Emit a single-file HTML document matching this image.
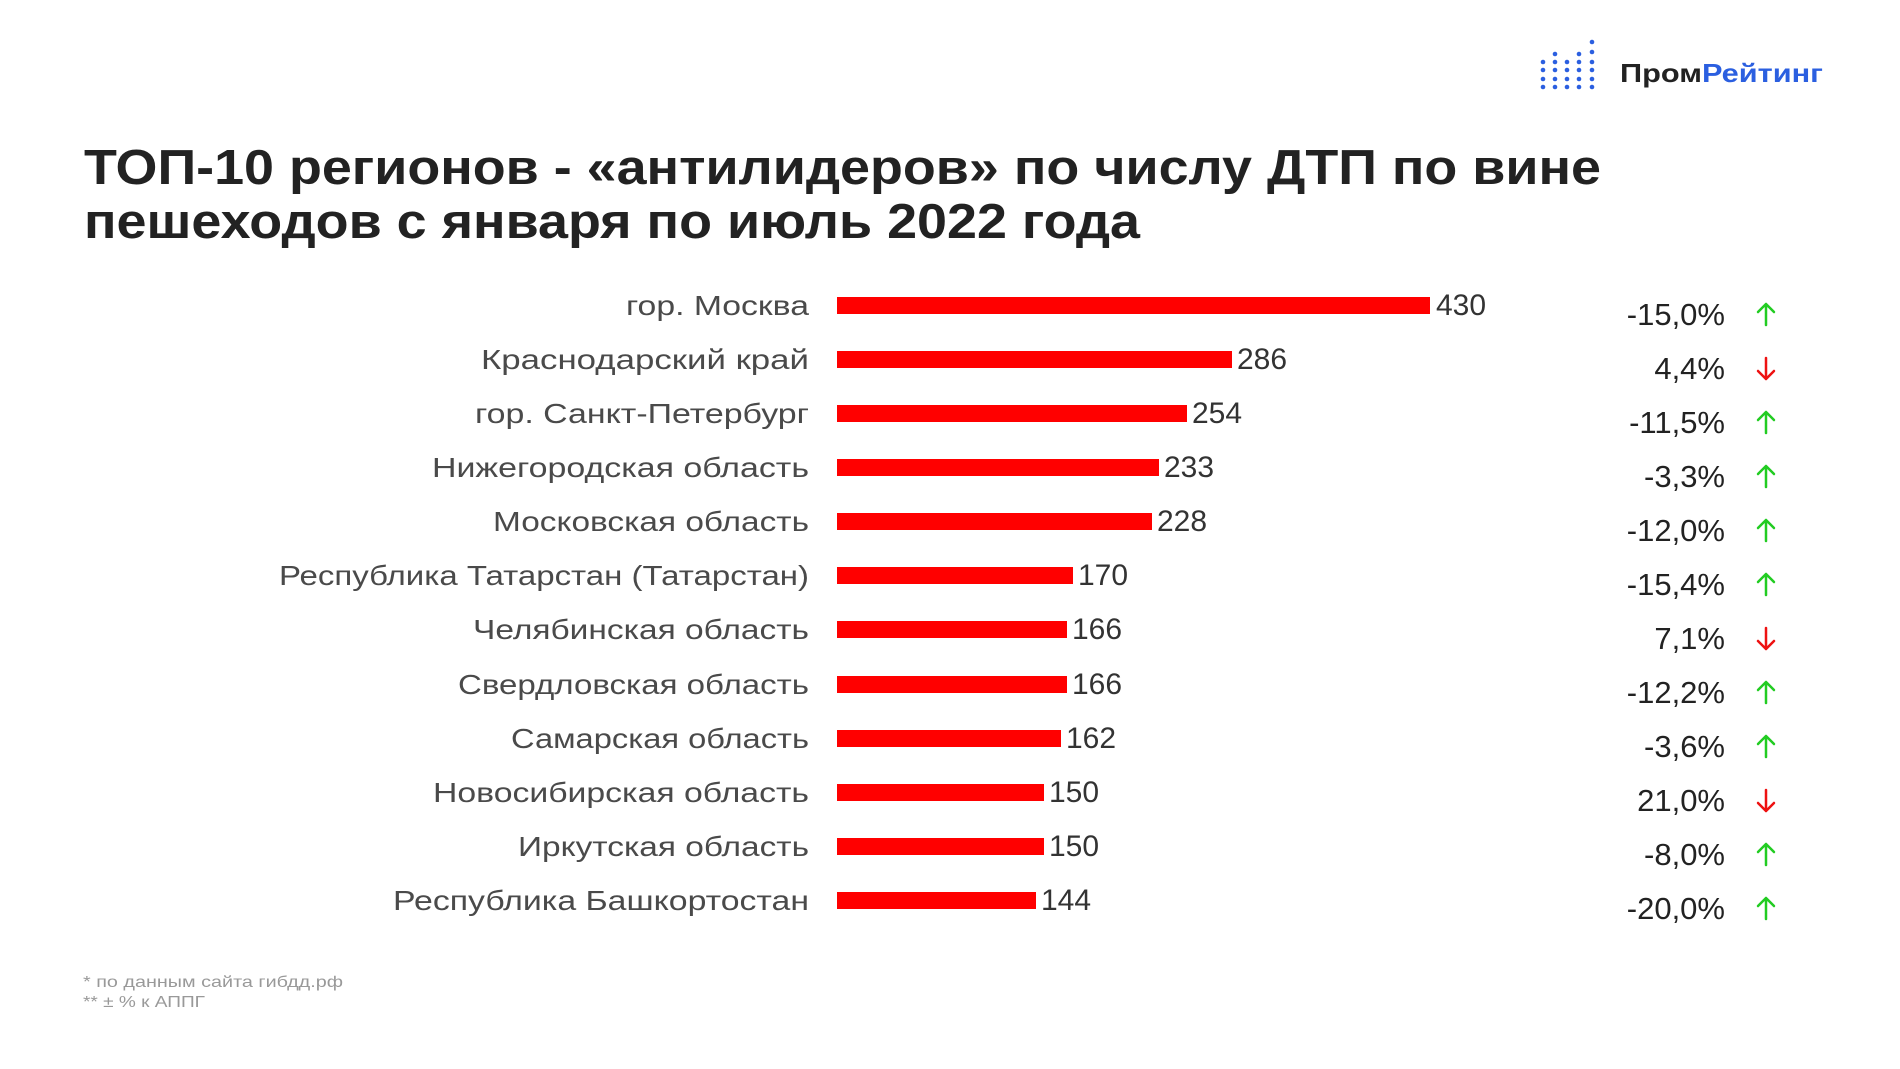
<!DOCTYPE html>
<html><head><meta charset="utf-8"><style>
html,body{margin:0;padding:0;background:#fff;}
svg{display:block;}
text{font-family:"Liberation Sans","DejaVu Sans",sans-serif;}
</style></head><body>
<svg width="1900" height="1069" viewBox="0 0 1900 1069" xmlns="http://www.w3.org/2000/svg">
<rect width="1900" height="1069" fill="#fff"/>
<g fill="#2b5fe0">
<circle cx="1543" cy="62" r="2.3"/><circle cx="1543" cy="70" r="2.3"/><circle cx="1543" cy="79" r="2.3"/><circle cx="1543" cy="87" r="2.3"/>
<circle cx="1555" cy="62" r="2.3"/><circle cx="1555" cy="70" r="2.3"/><circle cx="1555" cy="79" r="2.3"/><circle cx="1555" cy="87" r="2.3"/><circle cx="1555" cy="54" r="2.3"/>
<circle cx="1567" cy="62" r="2.3"/><circle cx="1567" cy="70" r="2.3"/><circle cx="1567" cy="79" r="2.3"/><circle cx="1567" cy="87" r="2.3"/>
<circle cx="1579" cy="62" r="2.3"/><circle cx="1579" cy="70" r="2.3"/><circle cx="1579" cy="79" r="2.3"/><circle cx="1579" cy="87" r="2.3"/><circle cx="1579" cy="54" r="2.3"/>
<circle cx="1592" cy="42" r="2.3"/><circle cx="1592" cy="52" r="2.3"/><circle cx="1592" cy="62" r="2.3"/><circle cx="1592" cy="70" r="2.3"/><circle cx="1592" cy="79" r="2.3"/><circle cx="1592" cy="87" r="2.3"/>
</g>
<text x="1620" y="82" font-size="26" font-weight="bold" textLength="203" lengthAdjust="spacingAndGlyphs"><tspan fill="#222">Пром</tspan><tspan fill="#2b5fe0">Рейтинг</tspan></text>
<text x="84" y="184" font-size="49" font-weight="bold" fill="#222" textLength="1517" lengthAdjust="spacingAndGlyphs">ТОП-10 регионов - «антилидеров» по числу ДТП по вине</text>
<text x="84" y="238" font-size="49" font-weight="bold" fill="#222" textLength="1056" lengthAdjust="spacingAndGlyphs">пешеходов с января по июль 2022 года</text>
<g font-size="28" fill="#4a4a4a" lengthAdjust="spacingAndGlyphs">
<text x="626" y="315" textLength="183" lengthAdjust="spacingAndGlyphs">гор. Москва</text>
<text x="481" y="369" textLength="328" lengthAdjust="spacingAndGlyphs">Краснодарский край</text>
<text x="475" y="423" textLength="334" lengthAdjust="spacingAndGlyphs">гор. Санкт-Петербург</text>
<text x="432" y="477" textLength="377" lengthAdjust="spacingAndGlyphs">Нижегородская область</text>
<text x="493" y="531" textLength="316" lengthAdjust="spacingAndGlyphs">Московская область</text>
<text x="279" y="585" textLength="530" lengthAdjust="spacingAndGlyphs">Республика Татарстан (Татарстан)</text>
<text x="473" y="639" textLength="336" lengthAdjust="spacingAndGlyphs">Челябинская область</text>
<text x="458" y="694" textLength="351" lengthAdjust="spacingAndGlyphs">Свердловская область</text>
<text x="511" y="748" textLength="298" lengthAdjust="spacingAndGlyphs">Самарская область</text>
<text x="433" y="802" textLength="376" lengthAdjust="spacingAndGlyphs">Новосибирская область</text>
<text x="518" y="856" textLength="291" lengthAdjust="spacingAndGlyphs">Иркутская область</text>
<text x="393" y="910" textLength="416" lengthAdjust="spacingAndGlyphs">Республика Башкортостан</text>
</g>
<g fill="#ff0000">
<rect x="837" y="297" width="593" height="17"/>
<rect x="837" y="351" width="395" height="17"/>
<rect x="837" y="405" width="350" height="17"/>
<rect x="837" y="459" width="322" height="17"/>
<rect x="837" y="513" width="315" height="17"/>
<rect x="837" y="567" width="236" height="17"/>
<rect x="837" y="621" width="230" height="17"/>
<rect x="837" y="676" width="230" height="17"/>
<rect x="837" y="730" width="224" height="17"/>
<rect x="837" y="784" width="207" height="17"/>
<rect x="837" y="838" width="207" height="17"/>
<rect x="837" y="892" width="199" height="17"/>
</g>
<g font-size="30" fill="#333">
<text x="1436" y="315">430</text>
<text x="1237" y="369">286</text>
<text x="1192" y="423">254</text>
<text x="1164" y="477">233</text>
<text x="1157" y="531">228</text>
<text x="1078" y="585">170</text>
<text x="1072" y="639">166</text>
<text x="1072" y="694">166</text>
<text x="1066" y="748">162</text>
<text x="1049" y="802">150</text>
<text x="1049" y="856">150</text>
<text x="1041" y="910">144</text>
</g>
<g font-size="31" fill="#222" text-anchor="end">
<text x="1725" y="325">-15,0%</text>
<text x="1725" y="379">4,4%</text>
<text x="1725" y="433">-11,5%</text>
<text x="1725" y="487">-3,3%</text>
<text x="1725" y="541">-12,0%</text>
<text x="1725" y="595">-15,4%</text>
<text x="1725" y="649">7,1%</text>
<text x="1725" y="703">-12,2%</text>
<text x="1725" y="757">-3,6%</text>
<text x="1725" y="811">21,0%</text>
<text x="1725" y="865">-8,0%</text>
<text x="1725" y="919">-20,0%</text>
</g>
<g stroke-width="2.5" fill="none" stroke-linecap="round" stroke-linejoin="round">
<path d="M1766 325V304M1758 312L1766 304L1774 312" stroke="#22cc22"/>
<path d="M1766 358V379M1758 371L1766 379L1774 371" stroke="#ee1111"/>
<path d="M1766 433V412M1758 420L1766 412L1774 420" stroke="#22cc22"/>
<path d="M1766 487V466M1758 474L1766 466L1774 474" stroke="#22cc22"/>
<path d="M1766 541V520M1758 528L1766 520L1774 528" stroke="#22cc22"/>
<path d="M1766 595V574M1758 582L1766 574L1774 582" stroke="#22cc22"/>
<path d="M1766 628V649M1758 641L1766 649L1774 641" stroke="#ee1111"/>
<path d="M1766 703V682M1758 690L1766 682L1774 690" stroke="#22cc22"/>
<path d="M1766 757V736M1758 744L1766 736L1774 744" stroke="#22cc22"/>
<path d="M1766 790V811M1758 803L1766 811L1774 803" stroke="#ee1111"/>
<path d="M1766 865V844M1758 852L1766 844L1774 852" stroke="#22cc22"/>
<path d="M1766 919V898M1758 906L1766 898L1774 906" stroke="#22cc22"/>
</g>
<g font-size="16" fill="#999">
<text x="83" y="987" textLength="260" lengthAdjust="spacingAndGlyphs">* по данным сайта гибдд.рф</text>
<text x="83" y="1007" textLength="122" lengthAdjust="spacingAndGlyphs">** ± % к АППГ</text>
</g>
</svg>
</body></html>
